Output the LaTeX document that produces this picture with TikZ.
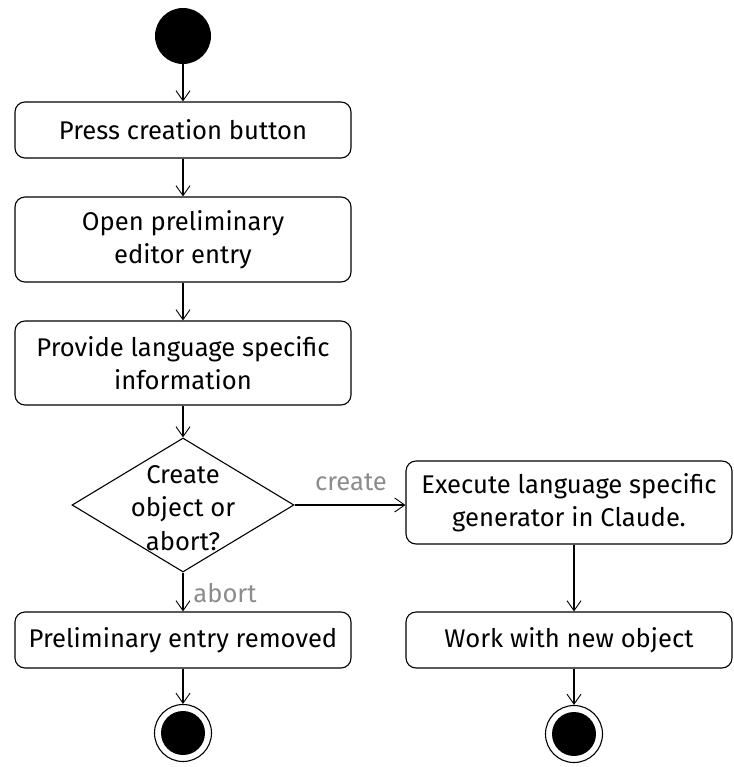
\documentclass[tikz,border=0pt]{standalone}
\usepackage{fontspec}
\setmainfont{Fira Sans}
\usetikzlibrary{arrows.meta,shapes.geometric}
\begin{document}
\begin{tikzpicture}[x=1pt,y=-1pt,
  every node/.style={font=\fontsize{25.6}{33.5}\selectfont},
  act/.style={draw, line width=1.1pt, rounded corners=10pt, inner sep=0pt, align=center},
  arr/.style={line width=1.1pt, -{Straight Barb[length=10pt,width=14pt,line width=0.9pt]}},
  guard/.style={text=black!45, inner sep=0pt}]
\useasboundingbox (0,0) rectangle (733,767);
\node[circle, fill=black, minimum size=56pt, inner sep=0pt] (start) at (183,36) {};
\node[act, minimum width=336pt, minimum height=56pt] (b1) at (183,130) {Press creation button};
\node[act, minimum width=336pt, minimum height=85pt] (b2) at (183,239.5) {Open preliminary\\editor entry};
\node[act, minimum width=336pt, minimum height=84pt] (b3) at (183,363) {Provide language specific\\information};
\node[diamond, draw, line width=1.1pt, minimum width=222pt, minimum height=134pt, inner sep=0pt] (dec) at (183,505) {};
\node[align=center, inner sep=0pt] (dect) at (183,508) {Create\\object or\\abort?};
\node[act, minimum width=336pt, minimum height=56pt] (b4) at (183,640) {Preliminary entry removed};
\node[act, minimum width=326pt, minimum height=83pt] (r1) at (569,502.5) {Execute language specific\\generator in Claude.};
\node[act, minimum width=326pt, minimum height=56pt] (r2) at (569,640) {Work with new object};
\node[circle, draw, line width=1.1pt, minimum size=57pt, inner sep=0pt,
  path picture={\fill (path picture bounding box.center) circle (22pt);}] (e1) at (183,733) {};
\node[circle, draw, line width=1.1pt, minimum size=57pt, inner sep=0pt,
  path picture={\fill (path picture bounding box.center) circle (22pt);}] (e2) at (574,734) {};
\draw[arr] (start) -- (b1);
\draw[arr] (b1) -- (b2);
\draw[arr] (b2) -- (b3);
\draw[arr] (b3) -- (dec.north);
\draw[arr] (dec.east) -- (dec.east -| r1.west);
\draw[arr] (dec.south) -- (b4);
\draw[arr] (b4) -- (e1);
\draw[arr] (r1.south -| e2.center) -- (r2.north -| e2.center);
\draw[arr] (r2.south -| e2.center) -- (e2);
\node[guard] (lc) at (351,482) {create};
\node[guard] (la) at (225,593) {abort};
\end{tikzpicture}
\end{document}
